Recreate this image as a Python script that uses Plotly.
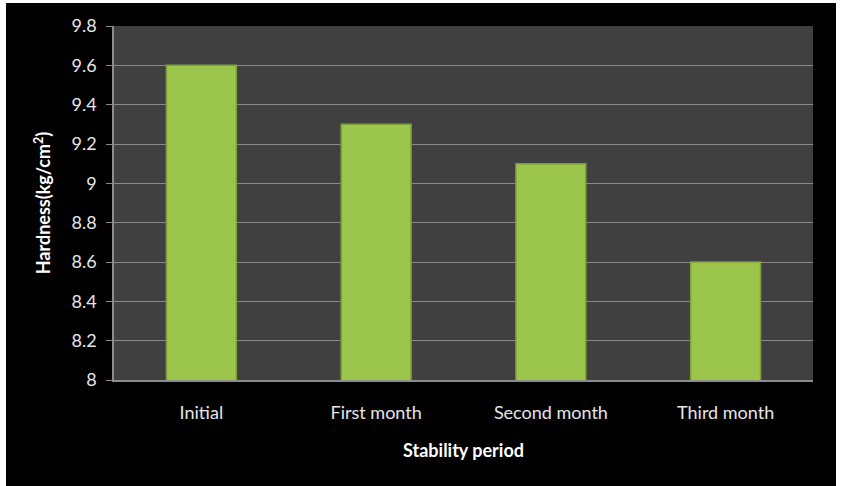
import plotly.graph_objects as go

categories = ["Initial", "First month", "Second month", "Third month"]
hardness = [9.6, 9.3, 9.1, 8.6]
y_ticks = [8, 8.2, 8.4, 8.6, 8.8, 9, 9.2, 9.4, 9.6, 9.8]
y_tick_text = ["8", "8.2", "8.4", "8.6", "8.8", "9", "9.2", "9.4", "9.6", "9.8"]

W, H = 843, 486
L, R, T, B = 114, 30, 26, 106
pw, ph = W - L - R, H - T - B

def px_x(p):
    return (p - L) / pw

def px_y(p):
    return (H - B - p) / ph

fig = go.Figure()
fig.add_trace(go.Bar(
    x=categories, y=hardness,
    marker=dict(color="#9cc64b", line=dict(color="#7c9f38", width=1.5)),
    width=0.4,
))

font_family = "Lato, Open Sans, sans-serif"
fig.update_layout(
    width=W, height=H,
    margin=dict(l=L, r=R, t=T, b=B),
    paper_bgcolor="#000000",
    plot_bgcolor="#404040",
    showlegend=False,
    font=dict(family=font_family, color="#e6e6e6", size=18),
    bargap=0.6,
    xaxis=dict(
        showgrid=False,
        showline=True, linecolor="#8c8c8c", linewidth=1.5,
        ticks="", ticklabelstandoff=16,
        tickfont=dict(size=18, color="#e6e6e6"),
        title=dict(text="<b>Stability period</b>", font=dict(size=18, color="#ffffff"), standoff=22),
    ),
    yaxis=dict(
        range=[8, 9.8],
        tickvals=y_ticks, ticktext=y_tick_text,
        showgrid=True, gridcolor="#8a8a8a", gridwidth=1.2,
        showline=True, linecolor="#8c8c8c", linewidth=1.5,
        ticks="outside", ticklen=6, tickcolor="#8c8c8c",
        ticklabelstandoff=6,
        tickfont=dict(size=18, color="#e6e6e6"),
        zeroline=False,
        title=dict(text="<b>Hardness(kg/cm<sup>2</sup>)</b>", font=dict(size=18, color="#ffffff"), standoff=16),
    ),
)

# white border around the black frame
border = [
    (0, 0, W, 3),
    (0, 0, 6, H),
    (836, 0, W, H),
]
for x0, y0, x1, y1 in border:
    fig.add_shape(type="rect", xref="paper", yref="paper",
                  x0=px_x(x0), x1=px_x(x1), y0=px_y(y1), y1=px_y(y0),
                  fillcolor="#ffffff", line=dict(width=0), layer="above")

fig.write_html("out.html")
